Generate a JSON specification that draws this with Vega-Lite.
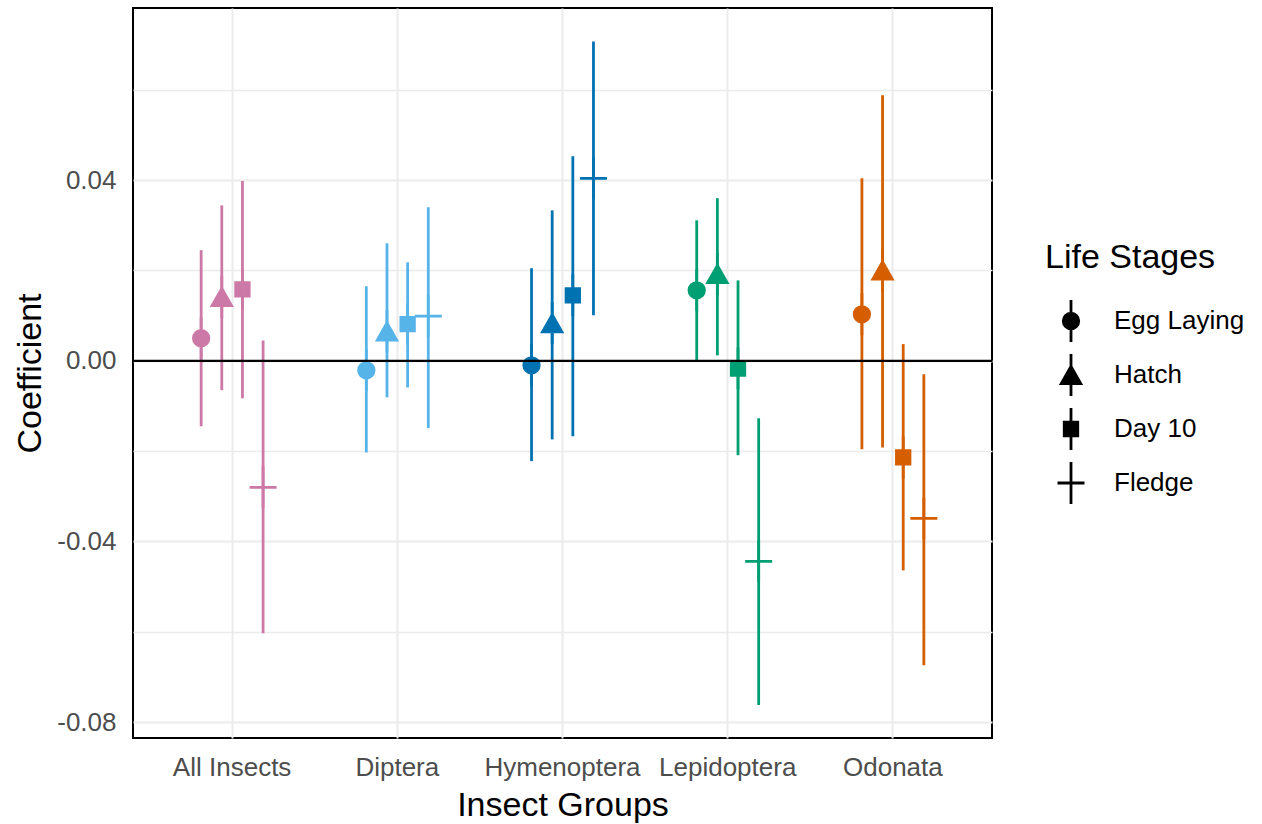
{
  "$schema": "https://vega.github.io/schema/vega-lite/v6.json",
  "width": 859,
  "height": 730,
  "autosize": {"type": "none"},
  "padding": {"left": 133, "top": 8, "right": 270, "bottom": 86},
  "background": "white",
  "config": {
    "font": "Liberation Sans",
    "view": {"stroke": "black", "strokeWidth": 2}
  },
  "data": {"values": [
    {"group": "All Insects", "stage": "Egg Laying", "estimate": 0.0050, "low": -0.0145, "high": 0.0245},
    {"group": "All Insects", "stage": "Hatch", "estimate": 0.0141, "low": -0.0065, "high": 0.0344},
    {"group": "All Insects", "stage": "Day 10", "estimate": 0.0158, "low": -0.0083, "high": 0.0398},
    {"group": "All Insects", "stage": "Fledge", "estimate": -0.0280, "low": -0.0603, "high": 0.0045},
    {"group": "Diptera", "stage": "Egg Laying", "estimate": -0.0021, "low": -0.0203, "high": 0.0165},
    {"group": "Diptera", "stage": "Hatch", "estimate": 0.0065, "low": -0.0081, "high": 0.0260},
    {"group": "Diptera", "stage": "Day 10", "estimate": 0.0081, "low": -0.0059, "high": 0.0218},
    {"group": "Diptera", "stage": "Fledge", "estimate": 0.0099, "low": -0.0149, "high": 0.0340},
    {"group": "Hymenoptera", "stage": "Egg Laying", "estimate": -0.0010, "low": -0.0222, "high": 0.0205},
    {"group": "Hymenoptera", "stage": "Hatch", "estimate": 0.0083, "low": -0.0174, "high": 0.0333},
    {"group": "Hymenoptera", "stage": "Day 10", "estimate": 0.0145, "low": -0.0167, "high": 0.0453},
    {"group": "Hymenoptera", "stage": "Fledge", "estimate": 0.0404, "low": 0.0101, "high": 0.0707},
    {"group": "Lepidoptera", "stage": "Egg Laying", "estimate": 0.0156, "low": 0.0001, "high": 0.0311},
    {"group": "Lepidoptera", "stage": "Hatch", "estimate": 0.0192, "low": 0.0012, "high": 0.0360},
    {"group": "Lepidoptera", "stage": "Day 10", "estimate": -0.0017, "low": -0.0209, "high": 0.0178},
    {"group": "Lepidoptera", "stage": "Fledge", "estimate": -0.0444, "low": -0.0762, "high": -0.0127},
    {"group": "Odonata", "stage": "Egg Laying", "estimate": 0.0103, "low": -0.0196, "high": 0.0404},
    {"group": "Odonata", "stage": "Hatch", "estimate": 0.0200, "low": -0.0192, "high": 0.0588},
    {"group": "Odonata", "stage": "Day 10", "estimate": -0.0214, "low": -0.0464, "high": 0.0037},
    {"group": "Odonata", "stage": "Fledge", "estimate": -0.0349, "low": -0.0674, "high": -0.0030}
  ]},
  "layer": [
    {
      "mark": {"type": "rule", "strokeWidth": 2.8},
      "encoding": {
        "x": {
          "field": "group", "type": "nominal",
          "sort": ["All Insects", "Diptera", "Hymenoptera", "Lepidoptera", "Odonata"],
          "scale": {"paddingInner": 0.5, "paddingOuter": 0.35},
          "title": "Insect Groups",
          "axis": {
            "ticks": false, "domain": false, "grid": true, "bandPosition": 0.5,
            "gridColor": "#EBEBEB", "gridWidth": 2,
            "labelFontSize": 26, "labelColor": "#4D4D4D", "labelPadding": 16,
            "labelAngle": 0, "labelOverlap": false, "labelBound": false, "labelFlush": false,
            "titleFontSize": 34, "titleFontWeight": "normal", "titleColor": "black", "titlePadding": 8
          }
        },
        "xOffset": {
          "field": "stage", "type": "nominal",
          "sort": ["Egg Laying", "Hatch", "Day 10", "Fledge"],
          "scale": {"paddingInner": 0, "paddingOuter": 0}
        },
        "y": {
          "field": "low", "type": "quantitative",
          "scale": {"domain": [-0.0835, 0.0781], "nice": false, "zero": false},
          "title": "Coefficient",
          "axis": {
            "values": [-0.08, -0.06, -0.04, -0.02, 0, 0.02, 0.04, 0.06],
            "labelExpr": "abs(round(datum.value*100)) % 4 == 0 ? (datum.value < 0 ? '-' : '') + format(abs(datum.value), '.2f') : ''",
            "ticks": false, "domain": false, "grid": true,
            "gridColor": "#EBEBEB",
            "gridWidth": {"condition": {"test": "abs(round(datum.value*100)) % 4 == 0", "value": 2}, "value": 1.3},
            "labelFontSize": 26, "labelColor": "#4D4D4D", "labelPadding": 17,
            "titleFontSize": 34, "titleFontWeight": "normal", "titleColor": "black", "titlePadding": 9
          }
        },
        "y2": {"field": "high"},
        "color": {
          "field": "group", "type": "nominal",
          "sort": ["All Insects", "Diptera", "Hymenoptera", "Lepidoptera", "Odonata"],
          "scale": {"range": ["#CC79A7", "#56B4E9", "#0072B2", "#009E73", "#D55E00"]},
          "legend": null
        }
      }
    },
    {
      "mark": {"type": "point", "filled": true, "size": 324, "strokeWidth": 2.8, "opacity": 1},
      "encoding": {
        "x": {
          "field": "group", "type": "nominal",
          "sort": ["All Insects", "Diptera", "Hymenoptera", "Lepidoptera", "Odonata"],
          "title": "Insect Groups"
        },
        "xOffset": {
          "field": "stage", "type": "nominal",
          "sort": ["Egg Laying", "Hatch", "Day 10", "Fledge"]
        },
        "y": {"field": "estimate", "type": "quantitative", "title": "Coefficient"},
        "fill": {
          "field": "group", "type": "nominal",
          "sort": ["All Insects", "Diptera", "Hymenoptera", "Lepidoptera", "Odonata"],
          "scale": {"range": ["#CC79A7", "#56B4E9", "#0072B2", "#009E73", "#D55E00"]},
          "legend": null
        },
        "stroke": {
          "field": "group", "type": "nominal",
          "sort": ["All Insects", "Diptera", "Hymenoptera", "Lepidoptera", "Odonata"],
          "scale": {"range": ["#CC79A7", "#56B4E9", "#0072B2", "#009E73", "#D55E00"]},
          "legend": null
        },
        "shape": {
          "field": "stage", "type": "nominal",
          "sort": ["Egg Laying", "Hatch", "Day 10", "Fledge"],
          "scale": {
            "domain": ["Egg Laying", "Hatch", "Day 10", "Fledge"],
            "range": [
              "M0,-2.33V2.33M-0.86,0A0.86,0.86,0,1,0,0.86,0A0.86,0.86,0,1,0,-0.86,0Z",
              "M0,-2.33V2.33M0,-0.95L1.08,0.95L-1.08,0.95Z",
              "M0,-2.33V2.33M-0.75,-0.75H0.75V0.75H-0.75Z",
              "M0,-2.33V2.33M-1.5,0H1.5"
            ]
          },
          "legend": {
            "title": "Life Stages",
            "orient": "none", "legendX": 912, "legendY": 233,
            "padding": 0,
            "titleFontSize": 34, "titleFontWeight": "normal", "titleColor": "black", "titlePadding": 33,
            "labelFontSize": 26, "labelColor": "black", "labelOffset": 30,
            "symbolSize": 324, "symbolStrokeWidth": 2.8, "symbolOffset": 13,
            "symbolFillColor": "black", "symbolStrokeColor": "black",
            "rowPadding": 0,
            "encode": {"symbols": {"update": {"fill": {"value": "black"}, "stroke": {"value": "black"}, "strokeWidth": {"value": 2.8}, "opacity": {"value": 1}}}}
          }
        }
      }
    },
    {
      "data": {"values": [{}]},
      "mark": {"type": "rule", "color": "black", "strokeWidth": 2.2},
      "encoding": {"y": {"datum": 0}}
    }
  ]
}
